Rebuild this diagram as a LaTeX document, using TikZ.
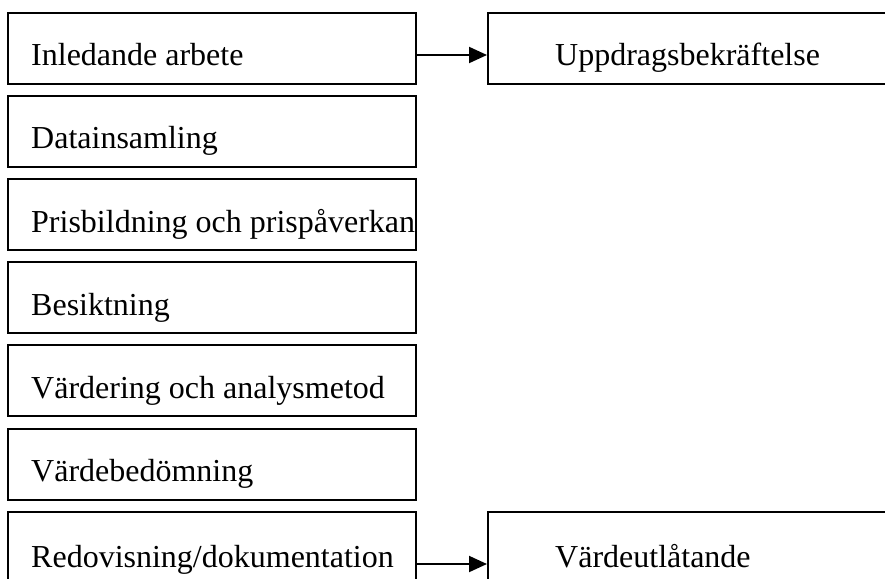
\documentclass[tikz,border=0pt]{standalone}
\usepackage{fontspec}
\setmainfont{Liberation Serif}
\usetikzlibrary{arrows.meta}
\begin{document}
\begin{tikzpicture}[x=1pt,y=-1pt,
  box/.style={draw,line width=2pt,rectangle,inner sep=0pt,minimum width=408pt,minimum height=71pt,anchor=north west},
  rbox/.style={draw,line width=2pt,rectangle,inner sep=0pt,minimum width=420pt,minimum height=71pt,anchor=north west},
  lbl/.style={anchor=base west,inner sep=0pt,font=\fontsize{32}{38}\selectfont},
  arr/.style={line width=2pt,-{Triangle[length=18pt,width=16pt]}}]
\useasboundingbox (0,0) rectangle (885,578);
\clip (0,0) rectangle (885,578);
\node[box] (b1) at (7,12) {};
\node[box] (b2) at (7,95) {};
\node[box] (b3) at (7,178) {};
\node[box] (b4) at (7,261) {};
\node[box] (b5) at (7,344) {};
\node[box] (b6) at (7,427.5) {};
\node[box,minimum height=80pt] (b7) at (7,511) {};
\node[rbox] (r1) at (487,12) {};
\node[rbox,minimum height=80pt] (r2) at (487,511) {};
\node[lbl] (t1) at (31,65) {Inledande arbete};
\node[lbl] (t2) at (31,148) {Datainsamling};
\node[lbl] (t3) at (31,232) {Prisbildning och prispåverkan};
\node[lbl] (t4) at (31,315) {Besiktning};
\node[lbl] (t5) at (31,398) {Värdering och analysmetod};
\node[lbl] (t6) at (31,481) {Värdebedömning};
\node[lbl] (t7) at (31,567) {Redovisning/dokumentation};
\node[lbl] (u1) at (555,65) {Uppdragsbekräftelse};
\node[lbl] (u2) at (555,567) {Värdeutlåtande};
\draw[arr] ([yshift=-43pt]b1.north east) -- ([yshift=-43pt]r1.north west);
\draw[arr] ([yshift=-53pt]b7.north east) -- ([yshift=-53pt]r2.north west);
\end{tikzpicture}
\end{document}
